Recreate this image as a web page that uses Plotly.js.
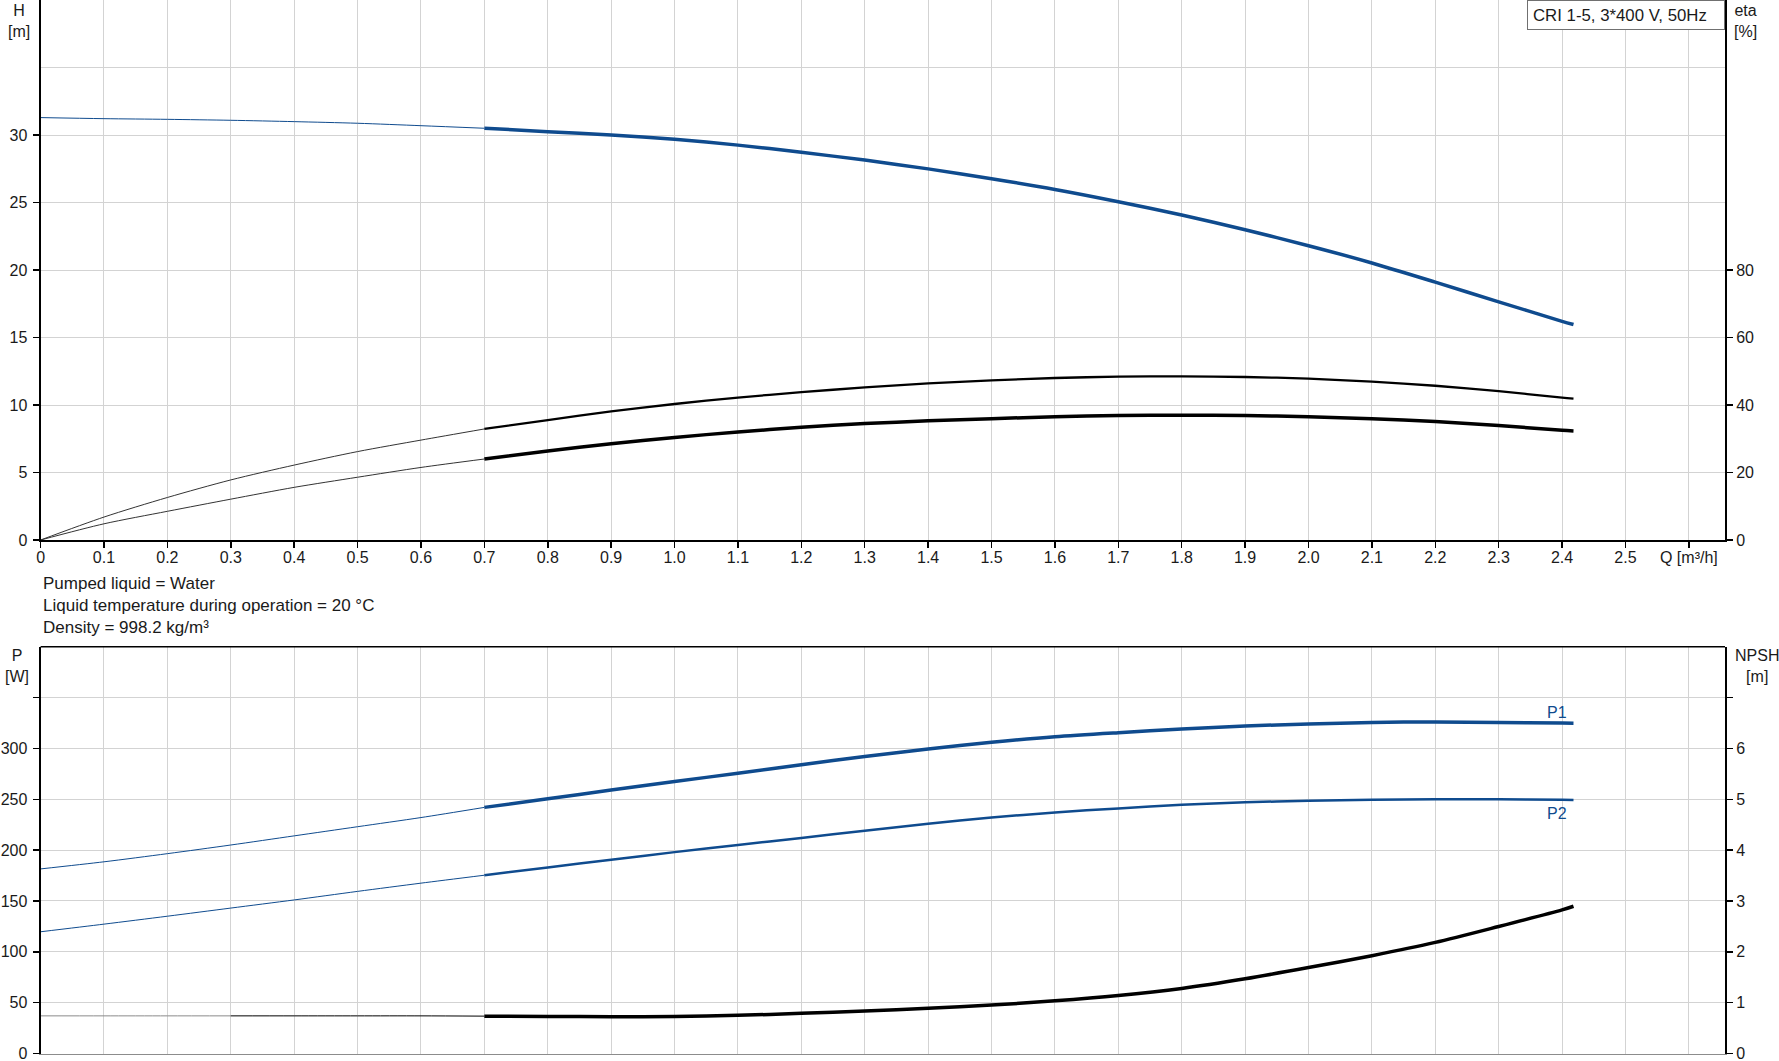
<!DOCTYPE html>
<html>
<head>
<meta charset="utf-8">
<script src="https://cdn.plot.ly/plotly-3.0.1.min.js"></script>
<style>
  html, body { margin: 0; padding: 0; background: #fff; }
  #chart { width: 1779px; height: 1061px; }
</style>
</head>
<body>
<div id="chart"></div>
<script>
// ---------- Data ----------
// Flow Q [m³/h]: thin (extrapolated) part and thick (operating) part
const qThin  = [0, 0.1, 0.2, 0.3, 0.4, 0.5, 0.6, 0.7];
const qThick = [0.7, 0.8, 0.9, 1.0, 1.1, 1.2, 1.3, 1.4, 1.5, 1.6, 1.7, 1.8, 1.9, 2.0, 2.1, 2.2, 2.3, 2.4, 2.418];

// Head H [m]
const hThin  = [31.29, 31.21, 31.16, 31.09, 30.99, 30.87, 30.69, 30.5];
const hThick = [30.5, 30.25, 30.0, 29.68, 29.25, 28.72, 28.14, 27.49, 26.76, 25.97, 25.06, 24.07, 22.98, 21.8, 20.52, 19.1, 17.64, 16.2, 15.96];

// Efficiency eta [%] (upper and lower curves)
const etaUpThin  = [0, 6.8, 12.6, 17.8, 22.2, 26.2, 29.6, 32.9];
const etaUpThick = [32.9, 35.5, 38.1, 40.3, 42.2, 43.8, 45.2, 46.4, 47.3, 48.0, 48.4, 48.5, 48.3, 47.8, 46.9, 45.7, 44.1, 42.2, 41.9];
const etaLoThin  = [0, 4.8, 8.5, 12.1, 15.6, 18.6, 21.5, 24.0];
const etaLoThick = [24.0, 26.4, 28.5, 30.4, 32.0, 33.4, 34.5, 35.3, 35.96, 36.5, 36.9, 37.0, 36.9, 36.5, 35.9, 35.1, 33.9, 32.5, 32.3];

// Power P1, P2 [W]
const p1Thin  = [181.5, 188.5, 196.5, 205, 214, 223, 232, 242];
const p1Thick = [242, 250.5, 259, 267.5, 275.5, 284, 292, 299.5, 306, 311.5, 315.5, 319, 322, 324, 325.5, 326, 325.5, 325, 324.8];
const p2Thin  = [119.7, 127.2, 135, 143, 151, 159.4, 167.5, 175.3];
const p2Thick = [175.3, 183, 190.5, 198, 205, 212, 219, 226, 232, 237, 241, 244.5, 247, 248.5, 249.5, 250, 250, 249.5, 249.3];

// NPSH [m]
const npshThin  = [0.74, 0.74, 0.74, 0.74, 0.74, 0.74, 0.74, 0.735];
const npshThick = [0.735, 0.728, 0.724, 0.728, 0.75, 0.79, 0.835, 0.89, 0.952, 1.035, 1.14, 1.28, 1.47, 1.69, 1.924, 2.185, 2.498, 2.824, 2.896];

// Tick values / labels
const qTicks = [0,0.1,0.2,0.3,0.4,0.5,0.6,0.7,0.8,0.9,1.0,1.1,1.2,1.3,1.4,1.5,1.6,1.7,1.8,1.9,2.0,2.1,2.2,2.3,2.4,2.5,2.6];
const qTickText = ['0','0.1','0.2','0.3','0.4','0.5','0.6','0.7','0.8','0.9','1.0','1.1','1.2','1.3','1.4','1.5','1.6','1.7','1.8','1.9','2.0','2.1','2.2','2.3','2.4','2.5','Q [m³/h]'];
const hTicks = [0, 5, 10, 15, 20, 25, 30];
const etaTicks = [0, 20, 40, 60, 80];
const pTicks = [0, 50, 100, 150, 200, 250, 300, 350];
const pTickText = ['0','50','100','150','200','250','300',''];
const npshTicks = [0, 1, 2, 3, 4, 5, 6, 7];
const npshTickText = ['0','1','2','3','4','5','6',''];

const modelLabel = 'CRI 1-5, 3*400 V, 50Hz';
const infoLines = ['Pumped liquid = Water', 'Liquid temperature during operation = 20 °C', 'Density = 998.2 kg/m³'];

// ---------- Styling ----------
const W = 1779, H = 1061;
const BLUE = '#0f4b8e';
const GRID = '#d3d3d3';
const TXT = '#1a1a1a';
const FONT = 'Liberation Sans, Arial, Helvetica, sans-serif';
const px = v => v / W;
const py = v => 1 - v / H;

const xDom = [px(40.6), px(1725)];
const topDom = [py(540), 1];
const botDom = [py(1053.5), py(646.7)];

function line(x, y, xa, ya, color, width) {
  return { x: x, y: y, xaxis: xa, yaxis: ya, type: 'scatter', mode: 'lines',
           line: { color: color, width: width, shape: 'spline', smoothing: 0.8 },
           hoverinfo: 'skip', showlegend: false };
}

const data = [
  // top chart: H
  line(qThin,  hThin,  'x', 'y', BLUE, 1),
  line(qThick, hThick, 'x', 'y', BLUE, 3.5),
  // top chart: eta
  line(qThin,  etaUpThin,  'x', 'y2', '#333', 1),
  line(qThick, etaUpThick, 'x', 'y2', '#000', 2.3),
  line(qThin,  etaLoThin,  'x', 'y2', '#333', 1),
  line(qThick, etaLoThick, 'x', 'y2', '#000', 3.5),
  // bottom chart: P1, P2
  line(qThin,  p1Thin,  'x2', 'y3', BLUE, 1),
  line(qThick, p1Thick, 'x2', 'y3', BLUE, 3.5),
  line(qThin,  p2Thin,  'x2', 'y3', BLUE, 1),
  line(qThick, p2Thick, 'x2', 'y3', BLUE, 2.5),
  // bottom chart: NPSH
  line(qThin.slice(0, 4), npshThin.slice(0, 4), 'x2', 'y4', '#8a8a8a', 1),
  line(qThin.slice(3),    npshThin.slice(3),    'x2', 'y4', '#000', 1),
  line(qThick, npshThick, 'x2', 'y4', '#000', 3.5)
];

const tickFont = { family: FONT, size: 16, color: TXT };

const layout = {
  width: W, height: H, autosize: false,
  margin: { l: 0, r: 0, t: 0, b: 0, pad: 0 },
  paper_bgcolor: '#fff', plot_bgcolor: '#fff',
  showlegend: false, hovermode: false,
  font: { family: FONT, size: 16, color: TXT },
  xaxis: {
    domain: xDom, anchor: 'y', range: [0, 2.657], fixedrange: true,
    tickmode: 'array', tickvals: qTicks, ticktext: qTickText, tickfont: tickFont,
    ticks: 'outside', ticklen: 6, tickwidth: 1.5, tickcolor: '#000', ticklabelstandoff: -4,
    showgrid: true, gridcolor: GRID, gridwidth: 1,
    showline: true, linecolor: '#000', linewidth: 2, zeroline: false
  },
  yaxis: {
    domain: topDom, anchor: 'x', range: [0, 40], fixedrange: true,
    tickmode: 'array', tickvals: hTicks, ticktext: hTicks.map(String), tickfont: tickFont,
    ticks: 'outside', ticklen: 6, tickwidth: 1.5, tickcolor: '#000', ticklabelstandoff: 2,
    showgrid: true, gridcolor: GRID, gridwidth: 1,
    minor: { dtick: 5, tick0: 0, showgrid: true, gridcolor: GRID, gridwidth: 1, ticks: '' },
    showline: true, linecolor: '#000', linewidth: 2, zeroline: false
  },
  yaxis2: {
    overlaying: 'y', anchor: 'x', side: 'right', range: [0, 160], fixedrange: true,
    tickmode: 'array', tickvals: etaTicks, ticktext: etaTicks.map(String), tickfont: tickFont,
    ticks: 'outside', ticklen: 6, tickwidth: 1.5, tickcolor: '#000',
    showgrid: false, showline: true, linecolor: '#000', linewidth: 2, zeroline: false
  },
  xaxis2: {
    domain: xDom, anchor: 'y3', range: [0, 2.657], fixedrange: true,
    tickmode: 'array', tickvals: qTicks, showticklabels: false, ticks: '',
    showgrid: true, gridcolor: GRID, gridwidth: 1,
    showline: true, linecolor: '#8c8c8c', linewidth: 1.5, zeroline: false
  },
  yaxis3: {
    domain: botDom, anchor: 'x2', range: [0, 400], fixedrange: true,
    tickmode: 'array', tickvals: pTicks, ticktext: pTickText, tickfont: tickFont,
    ticks: 'outside', ticklen: 6, tickwidth: 1.5, tickcolor: '#000', ticklabelstandoff: 2,
    ticklabeloverflow: 'allow',
    showgrid: true, gridcolor: GRID, gridwidth: 1,
    showline: true, linecolor: '#000', linewidth: 2, zeroline: false
  },
  yaxis4: {
    overlaying: 'y3', anchor: 'x2', side: 'right', range: [0, 8], fixedrange: true,
    tickmode: 'array', tickvals: npshTicks, ticktext: npshTickText, tickfont: tickFont,
    ticks: 'outside', ticklen: 6, tickwidth: 1.5, tickcolor: '#000',
    ticklabeloverflow: 'allow',
    showgrid: false, showline: true, linecolor: '#000', linewidth: 2, zeroline: false
  },
  shapes: [
    { type: 'line', xref: 'x2 domain', yref: 'y3 domain', x0: 0, x1: 1, y0: 1, y1: 1,
      line: { color: '#000', width: 1.5 } }
  ],
  annotations: [
    { text: 'H<br>[m]', xref: 'paper', yref: 'paper', x: px(19.3), y: 1, xanchor: 'center', yanchor: 'top',
      showarrow: false, font: { family: FONT, size: 16, color: TXT } },
    { text: 'eta<br>[%]', xref: 'paper', yref: 'paper', x: px(1745), y: 1, xanchor: 'center', yanchor: 'top',
      showarrow: false, font: { family: FONT, size: 16, color: TXT } },
    { text: 'P<br>[W]', xref: 'paper', yref: 'paper', x: px(17.2), y: py(644.5), xanchor: 'center', yanchor: 'top',
      showarrow: false, font: { family: FONT, size: 16, color: TXT } },
    { text: 'NPSH<br>[m]', xref: 'paper', yref: 'paper', x: px(1756.5), y: py(644.5), xanchor: 'center', yanchor: 'top',
      showarrow: false, font: { family: FONT, size: 16, color: TXT } },
    { text: infoLines.join('<br>'), xref: 'paper', yref: 'paper', x: px(41), y: py(572), xanchor: 'left', yanchor: 'top',
      align: 'left', showarrow: false, font: { family: FONT, size: 17, color: TXT } },
    { text: modelLabel, xref: 'paper', yref: 'paper', x: px(1725), y: 1, xanchor: 'right', yanchor: 'top',
      align: 'left', width: 186, height: 18, borderpad: 5, borderwidth: 1, bordercolor: '#707070',
      bgcolor: '#fff', showarrow: false, font: { family: FONT, size: 16.8, color: TXT } },
    { text: 'P1', xref: 'x2', yref: 'y3', x: 2.392, y: 335.3, xanchor: 'center', yanchor: 'middle',
      showarrow: false, font: { family: FONT, size: 16, color: BLUE } },
    { text: 'P2', xref: 'x2', yref: 'y3', x: 2.392, y: 236.3, xanchor: 'center', yanchor: 'middle',
      showarrow: false, font: { family: FONT, size: 16, color: BLUE } }
  ]
};

Plotly.newPlot('chart', data, layout, { staticPlot: true, displayModeBar: false });
</script>
</body>
</html>
